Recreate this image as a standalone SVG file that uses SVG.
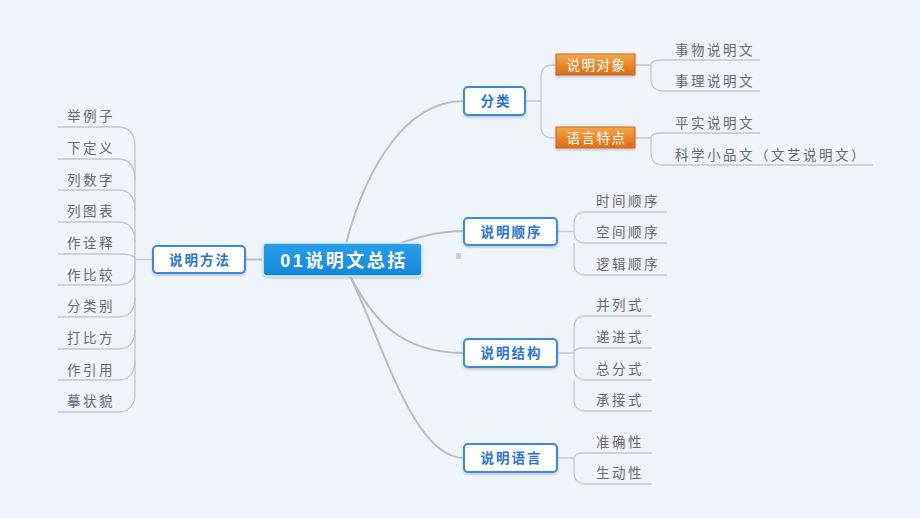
<svg xmlns="http://www.w3.org/2000/svg" width="920" height="518" viewBox="0 0 920 518">
<defs>
<linearGradient id="og" x1="0" y1="0" x2="0" y2="1"><stop offset="0" stop-color="#f5a648"/><stop offset="1" stop-color="#dc6d12"/></linearGradient>
<linearGradient id="cg" x1="0" y1="0" x2="0" y2="1"><stop offset="0" stop-color="#2aa0ea"/><stop offset="1" stop-color="#1486d6"/></linearGradient>
<filter id="sh" x="-10%" y="-20%" width="120%" height="150%"><feDropShadow dx="0" dy="1.5" stdDeviation="1.2" flood-color="#7a8aa0" flood-opacity="0.45"/></filter>
<style>
.bg{fill:#f0f4fb}
.main{fill:none;stroke:#b8bcc4;stroke-width:2}
.sub{fill:none;stroke:#c4c7ce;stroke-width:1.3}
.box{fill:#ffffff;stroke:#3a8ad6;stroke-width:2}
.obox{fill:url(#og);stroke:#d0661a;stroke-width:1}
.cbox{fill:url(#cg);stroke:#e6f2fc;stroke-width:1.5}
.bt{font-family:"Noto Sans CJK SC","Liberation Sans",sans-serif;font-size:13.5px;font-weight:bold;fill:#2c74c8;letter-spacing:2px;text-anchor:middle}
.ot{font-family:"Noto Sans CJK SC","Liberation Sans",sans-serif;font-size:13.5px;fill:#ffffff;letter-spacing:1.5px;text-anchor:middle}
.ct{font-family:"Liberation Sans","Noto Sans CJK SC",sans-serif;font-size:18px;font-weight:bold;fill:#ffffff;letter-spacing:2.5px;text-anchor:middle}
.lt{font-family:"Noto Sans CJK SC","Liberation Sans",sans-serif;font-size:13.5px;fill:#666a70;letter-spacing:2.5px}
</style>
</defs>
<rect class="bg" x="0" y="0" width="920" height="518"/>
<g id="connectors">
<path class="main" d="M342 260 C360 180 400 101 464 101"/>
<path class="main" d="M342 260 C390 250 420 231 464 231"/>
<path class="main" d="M342 260 C370 320 400 353 464 353"/>
<path class="main" d="M342 260 C380 330 410 458 464 458"/>
<path class="main" d="M245 259.5 H263"/>
<path class="sub" d="M525 101 H541 V77 Q541 65 553 65 H556"/>
<path class="sub" d="M541 101 V126 Q541 138 553 138 H556"/>
<path class="sub" d="M635 65 H651 Q651 60 661 60 H760"/>
<path class="sub" d="M651 65 V79 Q651 91 663 91 H760"/>
<path class="sub" d="M635 138 H651 Q651 133 661 133 H760"/>
<path class="sub" d="M651 138 V153 Q651 165 663 165 H873"/>
<path class="sub" d="M557 231.5 H574 V224 Q574 212 586 212 H667"/>
<path class="sub" d="M574 231.5 Q574 243 586 243 H667"/>
<path class="sub" d="M574 243 V263 Q574 275 586 275 H667"/>
<path class="sub" d="M557 353 H574 V328 Q574 316 586 316 H652"/>
<path class="sub" d="M574 353 Q574 348 584 348 H652"/>
<path class="sub" d="M574 353 V368 Q574 380 586 380 H652"/>
<path class="sub" d="M574 380 V399 Q574 411 586 411 H652"/>
<path class="sub" d="M557 458 H574 Q574 453 584 453 H652"/>
<path class="sub" d="M574 458 V472 Q574 484 586 484 H652"/>
<path class="sub" d="M153 259.5 H135"/>
<path class="sub" d="M135 259.5 V147 Q135 127 118 127 H58"/>
<path class="sub" d="M135 180 Q135 159 118 159 H58"/>
<path class="sub" d="M135 210 Q135 190 118 190 H58"/>
<path class="sub" d="M135 242 Q135 222 118 222 H58"/>
<path class="sub" d="M135 259.5 Q135 254 120 254 H58"/>
<path class="sub" d="M135 259.5 V268 Q135 285 118 285 H58"/>
<path class="sub" d="M135 297 Q135 317 118 317 H58"/>
<path class="sub" d="M135 329 Q135 349 118 349 H58"/>
<path class="sub" d="M135 360 Q135 380 118 380 H58"/>
<path class="sub" d="M135 259.5 V392 Q135 412 118 412 H58"/>
</g>
<rect x="456" y="253" width="5" height="6" fill="#c8cbd2"/>
<g id="center"><rect class="cbox" x="263" y="243" width="159" height="33" rx="4" filter="url(#sh)"/><text class="ct" x="344" y="266.5">01说明文总括</text></g>
<g id="n-fenlei"><rect class="box" x="464" y="87" width="61" height="28" rx="4" filter="url(#sh)"/><text class="bt" x="496" y="106">分类</text></g>
<g id="n-duixiang"><rect class="obox" x="556" y="54" width="79" height="21" filter="url(#sh)"/><text class="ot" x="596.5" y="69.5">说明对象</text></g>
<g id="n-tedian"><rect class="obox" x="556" y="127" width="79" height="21" filter="url(#sh)"/><text class="ot" x="596.5" y="142.5">语言特点</text></g>
<g id="n-shunxu"><rect class="box" x="464" y="218" width="93" height="27" rx="4" filter="url(#sh)"/><text class="bt" x="511.5" y="236.5">说明顺序</text></g>
<g id="n-jiegou"><rect class="box" x="464" y="339" width="93" height="28" rx="4" filter="url(#sh)"/><text class="bt" x="511.5" y="358">说明结构</text></g>
<g id="n-yuyan"><rect class="box" x="464" y="444" width="93" height="28" rx="4" filter="url(#sh)"/><text class="bt" x="511.5" y="463">说明语言</text></g>
<g id="n-fangfa"><rect class="box" x="153" y="246" width="92" height="27" rx="4" filter="url(#sh)"/><text class="bt" x="200" y="264.5">说明方法</text></g>
<g id="leaves-right">
<text class="lt" x="675" y="55">事物说明文</text>
<text class="lt" x="675" y="86">事理说明文</text>
<text class="lt" x="675" y="128">平实说明文</text>
<text class="lt" x="675" y="160">科学小品文（文艺说明文）</text>
<text class="lt" x="596" y="206">时间顺序</text>
<text class="lt" x="596" y="237">空间顺序</text>
<text class="lt" x="596" y="269">逻辑顺序</text>
<text class="lt" x="596" y="310">并列式</text>
<text class="lt" x="596" y="342">递进式</text>
<text class="lt" x="596" y="374">总分式</text>
<text class="lt" x="596" y="405">承接式</text>
<text class="lt" x="596" y="447">准确性</text>
<text class="lt" x="596" y="478">生动性</text>
</g>
<g id="leaves-left">
<text class="lt" x="67" y="121">举例子</text>
<text class="lt" x="67" y="153">下定义</text>
<text class="lt" x="67" y="185">列数字</text>
<text class="lt" x="67" y="216">列图表</text>
<text class="lt" x="67" y="248">作诠释</text>
<text class="lt" x="67" y="280">作比较</text>
<text class="lt" x="67" y="311">分类别</text>
<text class="lt" x="67" y="343">打比方</text>
<text class="lt" x="67" y="375">作引用</text>
<text class="lt" x="67" y="406">摹状貌</text>
</g>
</svg>
